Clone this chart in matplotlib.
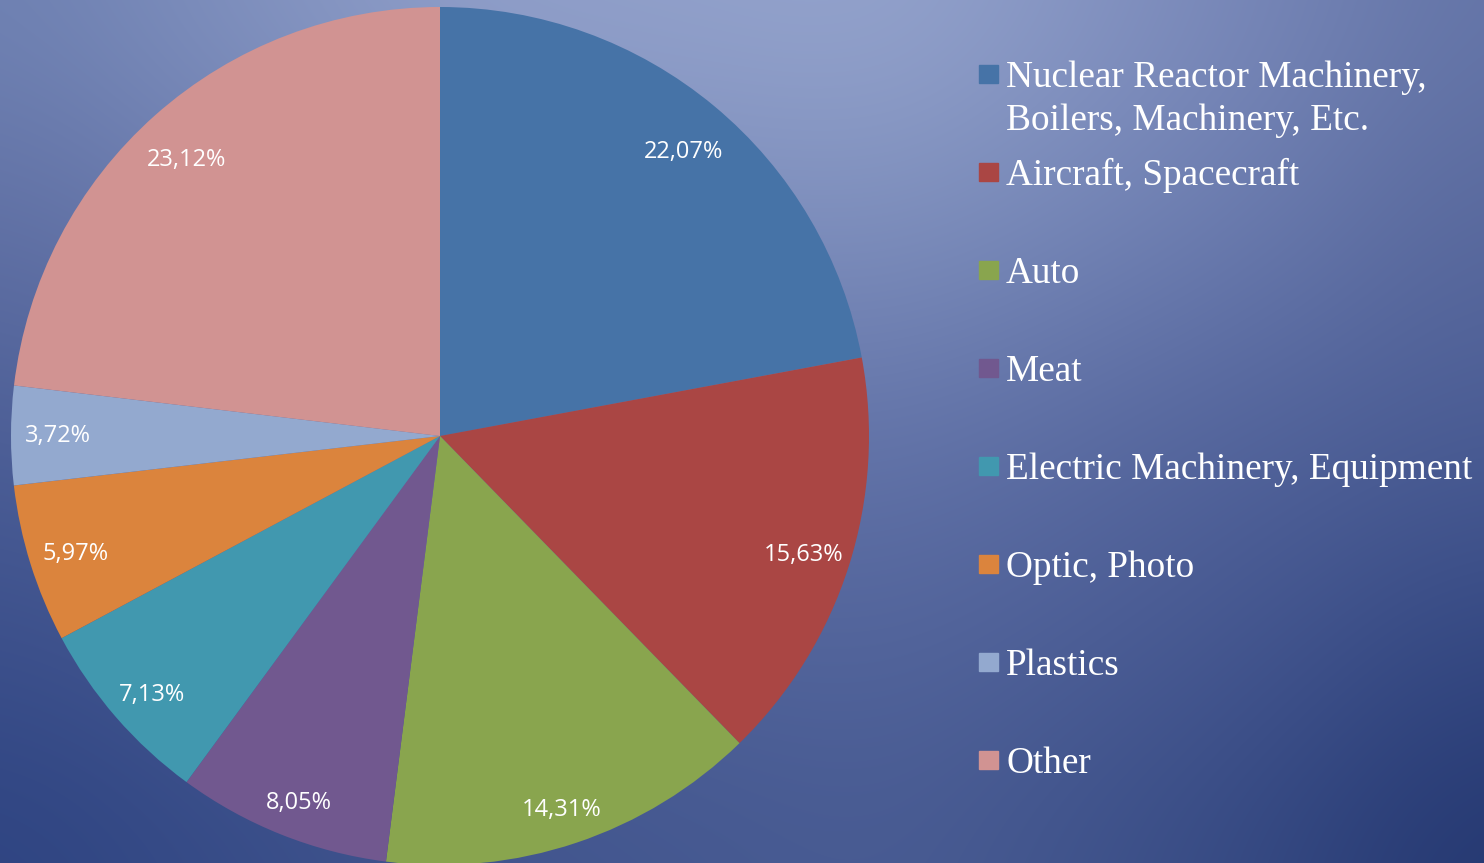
import numpy as np
import matplotlib
matplotlib.use("Agg")
import matplotlib.pyplot as plt
from matplotlib.patches import Rectangle


# ── Data ──────────────────────────────────────────────────
categories = [
    "Nuclear Reactor Machinery,\nBoilers, Machinery, Etc.",
    "Aircraft, Spacecraft",
    "Auto",
    "Meat",
    "Electric Machinery, Equipment",
    "Optic, Photo",
    "Plastics",
    "Other",
]
shares = [22.07, 15.63, 14.31, 8.05, 7.13, 5.97, 3.72, 23.12]
colors = ["#4673A7", "#AA4644", "#89A54E", "#71588F",
          "#4198AF", "#DB843D", "#93A9CF", "#D19392"]


# ── Canvas (pixel coordinates, y up) ──────────────────────
W, H = 1484, 863
fig = plt.figure(figsize=(W / 100, H / 100), dpi=100)
ax = fig.add_axes([0, 0, 1, 1])

# slide-style background gradient: coarse colour grid, interpolated then blurred
gx = [0, 440, 900, 1200, 1484]
gy = [0, 215, 430, 650, 863]
grid = np.array([
    [(111, 130, 179), (145, 160, 202), (150, 165, 206), (125, 140, 188), (100, 117, 168)],
    [(96, 112, 164), (122, 138, 186), (128, 145, 190), (110, 127, 178), (88, 104, 156)],
    [(76, 94, 150), (97, 114, 167), (100, 117, 170), (85, 102, 157), (74, 92, 148)],
    [(58, 78, 138), (77, 96, 151), (82, 100, 155), (70, 88, 145), (50, 70, 128)],
    [(44, 66, 128), (62, 82, 140), (72, 91, 146), (55, 75, 132), (34, 53, 110)],
], dtype=float) / 255.0
px = np.arange(W)
py = np.arange(H)
rows = np.stack([np.stack([np.interp(px, gx, grid[j, :, c]) for c in range(3)], -1)
                 for j in range(len(gy))])
bg = np.stack([np.stack([np.interp(py, gy, rows[:, i, c]) for i in range(W)], -1)
               for c in range(3)], -1)


def box_blur(img, k, axis):
    pad = [(0, 0)] * img.ndim
    pad[axis] = (k, k)
    p = np.pad(img, pad, mode="edge")
    cs = np.cumsum(p, axis=axis)
    n = img.shape[axis]
    hi = np.take(cs, np.arange(2 * k, 2 * k + n), axis=axis)
    lo = np.take(cs, np.arange(0, n), axis=axis)
    return (hi - lo) / (2 * k)


for _ in range(2):
    bg = box_blur(bg, 90, 0)
    bg = box_blur(bg, 90, 1)
ax.imshow(np.clip(bg, 0, 1), extent=(0, W, 0, H), origin="upper",
          zorder=0, aspect="auto")


# ── Pie ───────────────────────────────────────────────────
def pct_label(p):
    return f"{p:.2f}".replace(".", ",") + "%"


cx, cy, R = 440, H - 436, 429
wedges, _, autotexts = ax.pie(
    shares, colors=colors, startangle=90, counterclock=False,
    center=(cx, cy), radius=R, autopct=pct_label,
    pctdistance=0.89, wedgeprops=dict(linewidth=0),
    textprops=dict(color="white", fontsize=17, family="Open Sans"),
)
for w in wedges:
    w.set_zorder(2)
# Excel nudges the data labels a little downwards near top and bottom
for t in autotexts:
    x, y = t.get_position()
    ny = (y - cy) / R
    t.set_position((x, y - 13 * abs(ny) / 0.89))
    t.set_zorder(3)


# ── Legend (drawn by hand to match the slide layout) ──────
for i, (label, col) in enumerate(zip(categories, colors)):
    base = 87 + 98 * i
    ax.add_patch(Rectangle((979, H - base + 4), 19, 18, color=col, zorder=3))
    for j, line in enumerate(label.split("\n")):
        ax.text(1006, H - base - 43 * j, line, color="white", fontsize=26.8,
                family="Liberation Serif", va="baseline", ha="left", zorder=3)

ax.set_xlim(0, W)
ax.set_ylim(0, H)
ax.set_aspect("auto")
ax.axis("off")

fig.savefig("out.png", dpi=100)
